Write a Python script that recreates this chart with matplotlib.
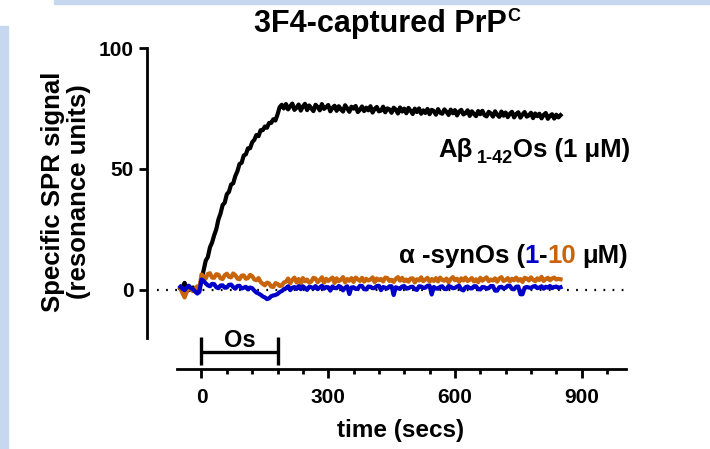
import numpy as np
import matplotlib
matplotlib.use('Agg')
import matplotlib.pyplot as plt
from matplotlib.patches import Rectangle
from matplotlib.ticker import MultipleLocator, FixedLocator

plt.rcParams['font.family'] = ['Liberation Sans', 'DejaVu Sans']
plt.rcParams['font.weight'] = 'bold'

# sampling grid of the SPR traces (secs)
time_s = np.arange(-50, 851, 5)

# Abeta1-42 oligomers, 1 uM
abeta = [0.4, 1.2, 2.8, 0.6, -0.2, 0.5, 0.9, -0.3, -0.5, 0.3,
         4.5, 8.0, 12.0, 13.5, 17.5, 19.5, 22.5, 25.0, 29.0, 31.5,
         35.0, 36.0, 39.5, 40.5, 43.5, 44.0, 47.0, 49.0, 52.0, 52.5,
         55.5, 56.0, 58.5, 58.5, 61.0, 62.0, 64.0, 63.5, 66.0, 66.0,
         67.5, 67.0, 69.0, 69.0, 70.5, 70.0, 72.5, 75.5, 76.5, 75.0,
         76.8, 74.6, 75.9, 77.0, 74.4, 75.3, 76.6, 74.1, 75.8, 76.9,
         74.3, 76.2, 75.0, 73.9, 76.5, 75.6, 74.2, 76.8, 74.8, 75.5,
         76.4, 73.8, 75.2, 76.1, 74.0, 75.9, 74.6, 73.7, 76.3, 75.0,
         73.6, 75.7, 74.9, 76.0, 73.5, 74.4, 75.8, 73.9, 75.3, 74.2,
         75.9, 73.3, 74.8, 75.6, 73.8, 74.1, 75.7, 73.4, 75.0, 74.6,
         73.2, 75.3, 74.5, 72.9, 75.4, 73.7, 74.9, 73.0, 75.2, 74.0,
         72.7, 74.9, 73.5, 75.0, 72.8, 74.2, 73.1, 74.8, 72.6, 74.4,
         73.9, 72.4, 74.7, 73.2, 72.8, 74.6, 73.6, 72.3, 74.5, 73.0,
         74.3, 72.1, 73.7, 74.4, 72.5, 73.0, 74.2, 71.9, 73.8, 72.7,
         71.8, 73.9, 72.6, 74.0, 72.2, 71.7, 73.6, 72.9, 71.6, 73.8,
         72.4, 71.5, 73.7, 72.0, 73.3, 71.4, 72.8, 73.6, 71.3, 72.7,
         73.4, 71.2, 72.5, 73.5, 71.6, 72.1, 73.2, 71.0, 72.9, 71.8,
         72.8, 70.9, 72.3, 73.1, 70.7, 71.9, 72.6, 70.8, 72.4, 71.3,
         72.2]

# alpha-synuclein oligomers, 10 uM
syn_10 = [0.6, -1.5, -3.2, -1.0, 0.8, 0.2, -0.6, 0.5, 1.4, 0.3,
          6.3, 5.2, 4.6, 6.5, 6.8, 5.0, 4.9, 6.4, 6.2, 4.7,
          4.4, 6.0, 6.6, 5.3, 5.1, 6.7, 6.0, 4.6, 4.3, 5.8,
          5.9, 4.5, 4.8, 6.1, 5.6, 4.2, 3.9, 4.8, 3.2, 2.4,
          1.8, 2.9, 2.6, 1.3, 1.1, 2.7, 2.4, 1.5, 1.7, 3.0,
          3.3, 4.6, 2.6, 4.1, 5.0, 3.0, 4.4, 2.7, 4.8, 3.5,
          4.2, 2.9, 3.4, 4.9, 4.6, 3.1, 4.0, 5.1, 2.9, 4.5,
          3.6, 4.3, 5.0, 2.8, 4.7, 3.5, 4.1, 5.2, 3.0, 4.4,
          3.7, 4.8, 3.2, 5.0, 4.3, 3.6, 4.9, 3.3, 4.5, 3.8,
          4.2, 5.1, 3.1, 4.6, 3.9, 4.4, 3.4, 5.0, 4.8, 3.6,
          4.1, 3.2, 4.5, 5.2, 3.7, 4.9, 3.5, 4.2, 3.3, 4.6,
          4.7, 3.0, 4.3, 3.8, 5.1, 3.5, 4.2, 4.9, 3.3, 4.4,
          3.6, 4.8, 3.4, 5.0, 4.0, 3.7, 4.6, 3.0, 4.4, 5.2,
          3.9, 4.5, 3.2, 4.7, 3.8, 5.0, 3.6, 4.1, 4.8, 3.4,
          4.3, 3.1, 4.9, 3.7, 4.5, 5.1, 3.5, 4.2, 3.8, 4.7,
          3.3, 4.6, 5.2, 3.6, 4.0, 4.8, 3.4, 4.5, 3.9, 5.0,
          3.7, 4.4, 3.2, 4.9, 4.6, 3.8, 5.1, 4.1, 3.5, 4.7,
          4.0, 5.3, 3.6, 4.4, 4.9, 3.9, 4.6, 5.0, 4.2, 4.5,
          4.3]

# alpha-synuclein oligomers, 1 uM
syn_1 = [1.2, 0.4, -0.2, 0.9, 1.6, 0.6, 0.2, -0.8, -1.6, -0.9,
         4.2, 3.6, 2.6, 1.8, 1.4, 2.4, 2.3, 1.0, 0.6, 1.7,
         1.8, 0.8, 0.9, 2.0, 2.1, 1.1, 0.4, 1.5, 1.6, 0.5,
         0.8, 1.2, 0.1, 0.9, 0.6, -0.4, -1.2, -1.6, -2.1, -2.8,
         -3.2, -3.9, -3.6, -2.7, -2.4, -2.2, -1.8, -1.0, -0.6, 0.2,
         0.6, 1.4, -0.2, 0.8, 1.1, 0.3, 1.5, 0.2, 1.4, 0.7,
         -0.1, 1.2, 1.0, 0.5, 1.5, 0.2, 0.9, 1.6, 0.4, 1.1,
         1.0, -0.4, 1.3, 0.7, 0.6, 1.5, 1.1, -0.3, 0.8, 1.4,
         -1.8, 0.9, 1.0, 0.3, 0.4, 1.6, 1.5, 0.2, 0.1, 1.3,
         1.2, 0.6, 0.7, 1.5, 1.6, -0.2, 1.1, 0.8, 0.5, 1.4,
         1.4, -2.2, 1.0, 0.6, 0.3, 1.3, 1.5, 0.4, 0.6, 1.1,
         1.2, 0.2, -0.1, 1.4, 1.3, 0.7, 0.8, 1.6, 1.6, -2.0,
         1.1, 0.5, 0.4, 1.2, 1.4, 0.3, 0.2, 1.5, 1.2, 0.6,
         0.7, 1.3, 1.6, 0.1, -0.3, 1.0, 1.3, 0.6, 0.5, 1.4,
         1.4, 0.2, 0.1, 1.1, 1.0, 0.4, 0.6, 1.5, 1.5, -0.4,
         -0.4, 1.0, 1.2, 0.5, 0.8, 1.6, 1.6, 0.3, 0.2, 1.2,
         1.3, -1.9, -1.9, 0.8, 1.1, 0.9, 0.7, 1.3, 1.5, 0.6,
         0.9, 1.4, 0.4, 1.2, 0.8, 1.5, 0.6, 1.1, 1.3, 0.7,
         1.0]

# oligomer injection window (secs)
inject_start, inject_end = 0, 180

x_ticks = [0, 300, 600, 900]
y_ticks = [0, 50, 100]

c_black = '#000000'
c_blue = '#0000c8'
c_orange = '#c8640a'

W, H = 710, 449
fig = plt.figure(figsize=(W / 100, H / 100), dpi=100)
fig.patch.set_facecolor('white')

# light blue frame strips of the original slide
fig.patches.append(Rectangle((0, 0), 8 / W, (H - 26) / H, transform=fig.transFigure,
                             color='#c6d8ef', zorder=0))
fig.patches.append(Rectangle((54 / W, 1 - 4 / H), 1 - 54 / W, 4 / H, transform=fig.transFigure,
                             color='#c6d8ef', zorder=0))


def px_box(l, t, r, b):
    return [l / W, 1 - b / H, (r - l) / W, (b - t) / H]


ax = fig.add_axes(px_box(177, 48, 626, 338))
ax.set_xlim(-58, 1005)
ax.set_ylim(-20, 100)

ax.plot(time_s, abeta, color=c_black, lw=3.0, zorder=3)
ax.plot(time_s, syn_10, color=c_orange, lw=3.0, zorder=4)
ax.plot(time_s, syn_1, color=c_blue, lw=3.0, zorder=5)

# dotted baseline
ax.axhline(0, xmin=(157 - 177) / 449, xmax=(628 - 177) / 449, color='k', lw=1.6,
           ls=(0, (0.8, 3.3)), clip_on=False, zorder=1)

for s in ['top', 'right']:
    ax.spines[s].set_visible(False)
ax.spines['left'].set_position(('outward', 21.6))
ax.spines['bottom'].set_position(('outward', 22.3))
for s in ['left', 'bottom']:
    ax.spines[s].set_linewidth(2)

ax.xaxis.set_major_locator(FixedLocator(x_ticks))
ax.xaxis.set_minor_locator(MultipleLocator(60))
ax.yaxis.set_major_locator(FixedLocator(y_ticks))
ax.tick_params(axis='x', which='major', width=2, length=6.5, labelsize=15, pad=7.5)
ax.tick_params(axis='x', which='minor', width=2, length=3.6)
ax.tick_params(axis='y', which='major', width=2, length=6, labelsize=15, pad=3.5)
for lab in ax.get_xticklabels() + ax.get_yticklabels():
    lab.set_fontweight('bold')

# injection bar
bar_y = -25.8
ax.plot([inject_start, inject_end], [bar_y, bar_y], color='k', lw=2.4, clip_on=False,
        solid_capstyle='butt')
for xx in [inject_start, inject_end]:
    ax.plot([xx, xx], [-19.6, -31.2], color='k', lw=2.4, clip_on=False, solid_capstyle='butt')
ax.text((inject_start + inject_end) / 2, -23.6, 'Os', ha='center', va='baseline',
        fontsize=17, fontweight='bold', clip_on=False)

fig.text(401 / W, 1 - 431 / H, 'time (secs)', ha='center', va='center', fontsize=17.5,
         fontweight='bold')
fig.text(66 / W, 1 - 192 / H, 'Specific SPR signal\n(resonance units)', rotation=90,
         ha='center', va='center', multialignment='center', fontsize=18.5,
         fontweight='bold', linespacing=1.12)


def rich_text(x_px, y_px, parts, align='left'):
    # parts: (text, colour, size, rise in px, gap after in px)
    r = fig.canvas.get_renderer()
    items = []
    total = 0
    for s, c, fs, rise, gap in parts:
        t = fig.text(0, 0, s, color=c, fontsize=fs, fontweight='bold', va='baseline', ha='left')
        w = t.get_window_extent(r).width
        items.append((t, w, rise, gap))
        total += w + gap
    x0 = x_px - {'left': 0, 'center': total / 2, 'right': total}[align]
    for t, w, rise, gap in items:
        t.set_position((x0 / W, 1 - (y_px - rise) / H))
        x0 += w + gap


rich_text(387, 32, [('3F4-captured PrP', 'k', 22, 0, 1), ('C', 'k', 13, 11, 0)], align='center')
rich_text(630, 157, [('A\u03b2', 'k', 18.5, 0, 4), ('1-42', 'k', 13, -6, 0),
                     ('Os (1 \u03bcM)', 'k', 18.5, 0, 0)], align='right')
rich_text(628, 263, [('\u03b1 -synOs (', 'k', 18.5, 0, 0), ('1', c_blue, 18.5, 0, 0),
                     ('-', 'k', 18.5, 0, 0), ('10', c_orange, 18.5, 0, 6),
                     ('\u03bcM)', 'k', 18.5, 0, 0)], align='right')

fig.savefig('out.png', dpi=100)
